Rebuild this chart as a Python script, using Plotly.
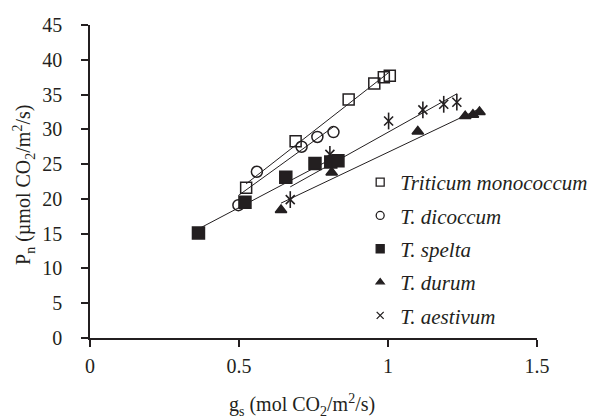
import numpy as np
import plotly.graph_objects as go

# ---- data ----
mono_x = [0.524, 0.690, 0.868, 0.954, 0.986, 1.006]
mono_y = [21.6, 28.3, 34.3, 36.6, 37.5, 37.7]

dico_x = [0.498, 0.560, 0.710, 0.763, 0.817]
dico_y = [19.1, 23.9, 27.5, 28.9, 29.6]

spel_x = [0.364, 0.520, 0.657, 0.755, 0.808, 0.832]
spel_y = [15.1, 19.5, 23.1, 25.1, 25.3, 25.5]

duru_x = [0.641, 0.811, 1.100, 1.259, 1.285, 1.307]
duru_y = [18.4, 23.8, 29.7, 31.9, 32.1, 32.5]

aest_x = [0.672, 0.805, 1.002, 1.117, 1.187, 1.231]
aest_y = [19.9, 26.4, 31.2, 32.8, 33.6, 33.9]

names = ["Triticum monococcum", "T. dicoccum", "T. spelta", "T. durum", "T. aestivum"]

x_ticks = [0, 0.5, 1, 1.5]
x_tick_text = ["0", "0.5", "1", "1.5"]
y_ticks = [0, 5, 10, 15, 20, 25, 30, 35, 40, 45]

INK = "#231f20"
FONT = "Liberation Serif"

fig = go.Figure()

series = [
    (mono_x, mono_y, dict(symbol="square-open", size=11)),
    (dico_x, dico_y, dict(symbol="circle-open", size=11)),
    (spel_x, spel_y, dict(symbol="square", size=12)),
    (duru_x, duru_y, dict(symbol="triangle-up", size=10)),
]

# trend lines (linear fit over each series' range)
for xs, ys in [(mono_x, mono_y), (dico_x, dico_y), (spel_x, spel_y),
               (duru_x, duru_y), (aest_x, aest_y)]:
    k, b = np.polyfit(xs, ys, 1)
    lx = [min(xs), max(xs)]
    fig.add_trace(go.Scatter(x=lx, y=[k * v + b for v in lx], mode="lines",
                             line=dict(color=INK, width=1), showlegend=False,
                             hoverinfo="skip"))

for xs, ys, mk in series:
    fig.add_trace(go.Scatter(x=xs, y=ys, mode="markers", showlegend=False,
                             marker=dict(color=INK, line=dict(color=INK, width=1.5), **mk)))

# asterisk = X + vertical bar
fig.add_trace(go.Scatter(x=aest_x, y=aest_y, mode="markers", showlegend=False,
                         marker=dict(symbol="x-thin-open", size=9, color=INK,
                                     line=dict(color=INK, width=1.6))))
fig.add_trace(go.Scatter(x=aest_x, y=aest_y, mode="markers", showlegend=False,
                         marker=dict(symbol="line-ns-open", size=12, color=INK,
                                     line=dict(color=INK, width=1.6))))

# legend entries
leg_syms = [("square-open", 8), ("circle-open", 8), ("square", 8),
            ("triangle-up", 7), ("x-thin-open", 7)]
for i, (nm, (sym, sz)) in enumerate(zip(names, leg_syms)):
    fig.add_trace(go.Scatter(x=[None], y=[None], mode="markers", name="<i>%s</i>" % nm,
                             legendgroup="g%d" % i,
                             marker=dict(symbol=sym, size=sz, color=INK,
                                         line=dict(color=INK, width=1.3))))

axis_common = dict(showline=True, linecolor=INK, linewidth=1.5, ticks="outside",
                   ticklen=7, tickwidth=1.5, tickcolor=INK, showgrid=False,
                   zeroline=False, automargin=False,
                   tickfont=dict(family=FONT, size=20, color=INK))

fig.update_xaxes(range=[0, 1.5], tickvals=x_ticks, ticktext=x_tick_text,
                 ticklabelstandoff=2, **axis_common)
fig.update_yaxes(range=[0, 45], tickvals=y_ticks, ticklabelstandoff=15, **axis_common)

PW, PH = 446.7, 313.0  # plot area size in px

fig.add_annotation(text="g<sub>s</sub> (mol CO<sub>2</sub>/m<sup>2</sup>/s)",
                   xref="paper", yref="paper", x=(302 - 90) / PW, y=-(405 - 338) / PH,
                   xanchor="center", yanchor="middle", showarrow=False,
                   font=dict(family=FONT, size=20, color=INK))
fig.add_annotation(text="P<sub>n</sub> (µmol CO<sub>2</sub>/m<sup>2</sup>/s)",
                   xref="paper", yref="paper", x=-(90 - 24) / PW, y=(338 - 185) / PH,
                   xanchor="center", yanchor="middle", textangle=-90, showarrow=False,
                   font=dict(family=FONT, size=20, color=INK))

# page body has an 8px default margin; size the figure so the plot area lands
# where the reference has it inside the 609x419 window
fig.update_layout(
    width=601, height=411,
    margin=dict(l=82, r=72.3, t=17, b=81, pad=0, autoexpand=False),
    paper_bgcolor="white", plot_bgcolor="white",
    font=dict(family=FONT, size=20, color=INK),
    legend=dict(x=(360 - 90) / PW, y=(338 - 162) / PH, xanchor="left", yanchor="top",
                bgcolor="rgba(0,0,0,0)", tracegroupgap=3,
                font=dict(family=FONT, size=21, color=INK)),
)

fig.write_html("out.html")
